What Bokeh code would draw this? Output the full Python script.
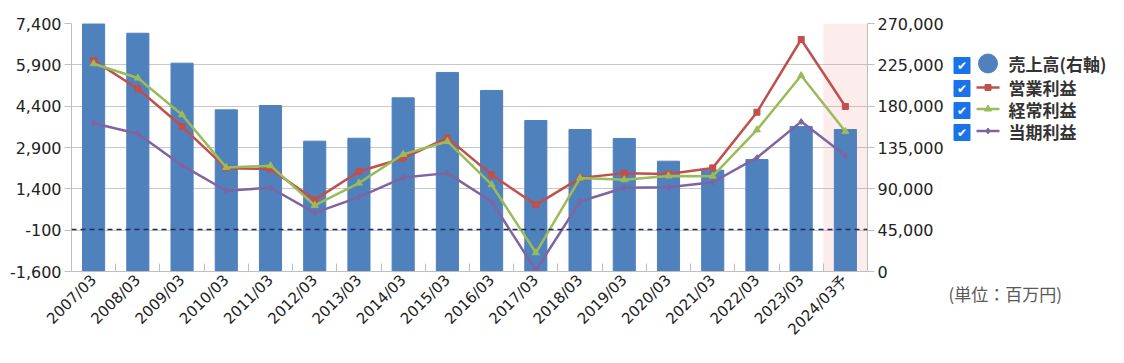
import math
from bokeh.plotting import figure
from bokeh.layouts import row
from bokeh.models import (Range1d, LinearAxis, FixedTicker, NumeralTickFormatter, Span,
                          BoxAnnotation, Title)
from bokeh.core.properties import value
from bokeh.embed import file_html
from bokeh.resources import INLINE

categories = ["2007/03", "2008/03", "2009/03", "2010/03", "2011/03", "2012/03", "2013/03",
              "2014/03", "2015/03", "2016/03", "2017/03", "2018/03", "2019/03", "2020/03",
              "2021/03", "2022/03", "2023/03", "2024/03予"]
sales = [269700, 259400, 226800, 176000, 180700, 141900, 145100, 189100, 216700,
         197100, 164400, 154600, 144800, 120100, 110300, 121900, 157900, 154600]
operating = [6060, 5030, 3660, 2150, 2120, 1000, 2030, 2510, 3250,
             1910, 820, 1790, 1970, 1940, 2160, 4180, 6820, 4390]
ordinary = [5940, 5420, 4090, 2170, 2240, 800, 1610, 2650, 3120,
            1550, -920, 1790, 1730, 1870, 1860, 3540, 5510, 3480]
net = [3780, 3400, 2250, 1330, 1440, 530, 1100, 1810, 1970,
       940, -1560, 940, 1440, 1460, 1640, 2530, 3840, 2610]
left_ticks = [-1600, -100, 1400, 2900, 4400, 5900, 7400]
right_ticks = [0, 45000, 90000, 135000, 180000, 225000, 270000]
legend_labels = ["売上高(右軸)", "営業利益", "経常利益", "当期利益"]
unit_text = "(単位：百万円)"

BLUE, RED, GREEN, PURPLE = "#4F81BD", "#C0504D", "#9BBB59", "#8064A2"
AXIS_C = "#BFBFBF"
TXT = "#222222"
JP = "Noto Sans CJK JP"

n = len(categories)
xs = [i + 0.5 for i in range(n)]

H = 347
W1 = 946
W2 = 170
FL, FR, FT, FB = 71, 867, 23, 271  # frame edges in canvas px

p = figure(width=W1, height=H, x_range=Range1d(0, n), y_range=Range1d(left_ticks[0], left_ticks[-1]),
           output_backend="svg", toolbar_location=None,
           min_border_left=FL, min_border_right=W1 - FR, min_border_top=FT, min_border_bottom=H - FB,
           outline_line_color=None, background_fill_color="white")
p.extra_y_ranges = {"sales": Range1d(right_ticks[0], right_ticks[-1])}

# forecast band
p.add_layout(BoxAnnotation(left=n - 1, right=n, fill_color="#F08080", fill_alpha=0.15,
                           line_color=None, level="underlay"))

p.vbar(x=xs, top=sales, width=0.5, color=BLUE, y_range_name="sales")

p.line(xs, operating, color=RED, line_width=2.5)
p.scatter(xs, operating, marker="square", size=6, color=RED)
p.line(xs, ordinary, color=GREEN, line_width=2.5)
p.scatter(xs, ordinary, marker="triangle", size=7, color=GREEN)
p.line(xs, net, color=PURPLE, line_width=2.5)
p.scatter(xs, net, marker="diamond", size=6, color=PURPLE)

p.add_layout(Span(location=-80, dimension="width", line_color="#1F2A5C", line_dash="5 4",
                  line_width=1.5))

# axes
p.xgrid.visible = False
p.ygrid.ticker = FixedTicker(ticks=left_ticks)
p.ygrid.grid_line_color = "#C8C8C8"

ya = p.yaxis[0]
ya.ticker = FixedTicker(ticks=left_ticks)
ya.formatter = NumeralTickFormatter(format="0,0")
ya.major_tick_in = 0
ya.major_tick_out = 7
ya.minor_tick_line_color = None
ya.axis_line_color = AXIS_C
ya.major_tick_line_color = AXIS_C
ya.major_label_text_font = "DejaVu Sans"
ya.major_label_text_font_size = "16px"
ya.major_label_text_color = TXT
ya.major_label_standoff = 3

ra = LinearAxis(y_range_name="sales", ticker=FixedTicker(ticks=right_ticks),
                formatter=NumeralTickFormatter(format="0,0"))
ra.major_tick_in = 0
ra.major_tick_out = 7
ra.minor_tick_line_color = None
ra.axis_line_color = AXIS_C
ra.major_tick_line_color = AXIS_C
ra.major_label_text_font = "DejaVu Sans"
ra.major_label_text_font_size = "16px"
ra.major_label_text_color = TXT
ra.major_label_standoff = 3
p.add_layout(ra, "right")

xa = p.xaxis[0]
xa.ticker = FixedTicker(ticks=xs, minor_ticks=list(range(1, n)))
xa.major_label_overrides = {x: c for x, c in zip(xs, categories)}
xa.major_tick_in = 0
xa.major_tick_out = 0
xa.minor_tick_in = 8
xa.minor_tick_out = 0
xa.minor_tick_line_color = AXIS_C
xa.axis_line_color = AXIS_C
xa.major_label_orientation = math.pi / 4
xa.major_label_text_font = "DejaVu Sans"
xa.major_label_text_font_size = "15px"
xa.major_label_text_color = TXT
xa.major_label_standoff = 6

# legend panel: its frame is aligned to the main frame, data coordinates equal page pixels
lg = figure(width=W2, height=H, x_range=Range1d(W1, W1 + W2), y_range=Range1d(FB, FT),
            output_backend="svg", toolbar_location=None, x_axis_location=None, y_axis_location=None,
            min_border_left=0, min_border_right=0, min_border_top=FT, min_border_bottom=H - FB,
            outline_line_color=None, background_fill_color="white")
lg.grid.visible = False

rows_y = [63, 87, 108.5, 130.5]
box_y = [65, 88, 110, 132]
lg.scatter(x=[961.5] * 4, y=box_y, marker="square", size=16, fill_color="#1A73E8",
           line_color="#1A73E8")
lg.text(x=[961.5] * 4, y=[b + 0.5 for b in box_y], text=["✔"] * 4, text_color="white",
        text_font=value("DejaVu Sans"), text_font_size="12px", text_font_style="bold",
        text_align="center", text_baseline="middle")
lg.scatter(x=[987.5], y=[rows_y[0]], marker="circle", size=19, color=BLUE)
for yy, col, mk, sz in [(rows_y[1], RED, "square", 6), (rows_y[2], GREEN, "triangle", 7),
                        (rows_y[3], PURPLE, "diamond", 6)]:
    lg.segment(x0=[976], y0=[yy], x1=[999], y1=[yy], line_color=col, line_width=2.5)
    lg.scatter(x=[987.5], y=[yy], marker=mk, size=sz, color=col)
lg.text(x=[1008] * 4, y=rows_y, text=legend_labels, text_color="#333333",
        text_font=value(JP), text_font_size="17px", text_font_style="bold",
        text_align="left", text_baseline="middle")

lg.add_layout(Title(text=unit_text, align="left", offset=2, standoff=14, text_color="#595959",
                    text_font=JP, text_font_size="17px", text_font_style="normal"), "below")

open("out.html", "w").write(file_html(row(p, lg), INLINE))
